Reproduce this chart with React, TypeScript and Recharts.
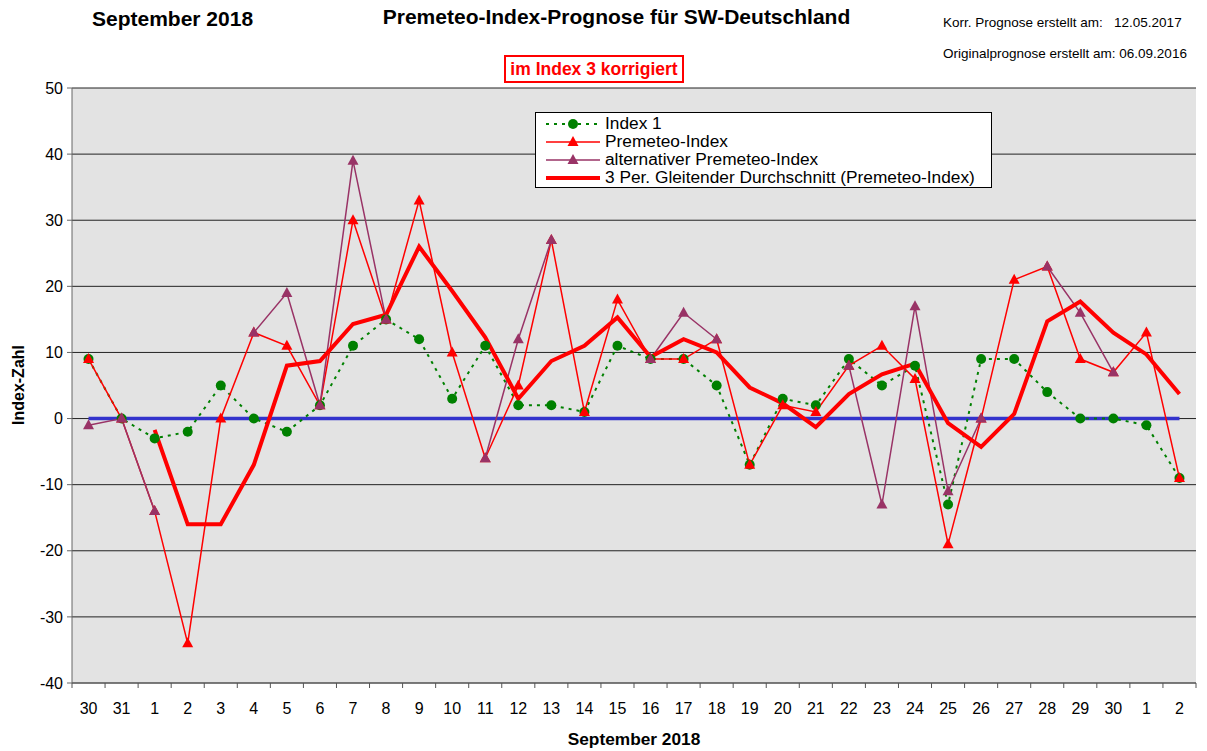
import { LineChart, Line, XAxis, YAxis, CartesianGrid, Legend, Label } from 'recharts'

// categories (Aug 30 .. Oct 2)
const days = ['30', '31', '1', '2', '3', '4', '5', '6', '7', '8', '9', '10', '11', '12', '13', '14', '15', '16', '17', '18', '19', '20', '21', '22', '23', '24', '25', '26', '27', '28', '29', '30', '1', '2']

const index1 = [9, 0, -3, -2, 5, 0, -2, 2, 11, 15, 12, 3, 11, 2, 2, 1, 11, 9, 9, 5, -7, 3, 2, 9, 5, 8, -13, 9, 9, 4, 0, 0, -1, -9]
const premeteo = [9, 0, -14, -34, 0, 13, 11, 2, 30, 15, 33, 10, -6, 5, 27, 1, 18, 9, 9, 12, -7, 2, 1, 8, 11, 6, -19, 0, 21, 23, 9, 7, 13, -9]
const altPremeteo = [-1, 0, -14, null, null, 13, 19, 2, 39, 15, null, null, -6, 12, 27, null, null, 9, 16, 12, null, null, null, 8, -13, 17, -11, 0, null, 23, 16, 7, null, null]
const movingAvg = [null, null, -1.7, -16, -16, -7, 8, 8.7, 14.3, 15.7, 26, 19.3, 12.3, 3, 8.7, 11, 15.3, 9.3, 12, 10, 4.7, 2.3, -1.3, 3.7, 6.7, 8.3, -0.7, -4.3, 0.7, 14.7, 17.7, 13, 9.7, 3.7]
const zeroLine = [0, 0, 0, 0, 0, 0, 0, 0, 0, 0, 0, 0, 0, 0, 0, 0, 0, 0, 0, 0, 0, 0, 0, 0, 0, 0, 0, 0, 0, 0, 0, 0, 0, 0]
const yTicks = [50, 40, 30, 20, 10, 0, -10, -20, -30, -40]

const data = days.map((d, i) => ({
  idx: i,
  day: d,
  index1: index1[i],
  premeteo: premeteo[i],
  alt: altPremeteo[i],
  avg: movingAvg[i],
  zero: zeroLine[i],
}))

const W = 1207
const H = 751
const PLOT_W = 1124
const BAND = PLOT_W / days.length
const FONT = 'Arial, "Liberation Sans", sans-serif'

const GREEN = '#008000'
const RED = '#FF0000'
const PURPLE = '#993366'
const BLUE = '#3333CC'

function triangle(color: string) {
  return (p: any) => {
    const { cx, cy, value, index } = p
    if (value == null || cy == null) return <g key={`t-${color}-${index}`} />
    return (
      <polygon
        key={`t-${color}-${index}`}
        points={`${cx},${cy - 6} ${cx - 5.5},${cy + 4} ${cx + 5.5},${cy + 4}`}
        fill={color}
      />
    )
  }
}

function circle(p: any) {
  const { cx, cy, value, index } = p
  if (value == null || cy == null) return <g key={`c-${index}`} />
  return <circle key={`c-${index}`} cx={cx} cy={cy} r={5} fill={GREEN} />
}

function XTick(p: any) {
  const { x, y, payload, index } = p
  const last = index === days.length - 1
  return (
    <g>
      <line x1={x - BAND / 2} x2={x - BAND / 2} y1={y} y2={y + 5} stroke="#555" />
      {last && <line x1={x + BAND / 2} x2={x + BAND / 2} y1={y} y2={y + 5} stroke="#555" />}
      <text x={x} y={y + 31} textAnchor="middle" fontSize={16} fontFamily={FONT} fill="#000">
        {days[payload.value]}
      </text>
    </g>
  )
}

const legendItems = [
  { name: 'Index 1', color: GREEN, dash: '3 5', width: 2, marker: 'circle' },
  { name: 'Premeteo-Index', color: RED, dash: '', width: 1.5, marker: 'tri' },
  { name: 'alternativer Premeteo-Index', color: PURPLE, dash: '', width: 1.5, marker: 'tri' },
  { name: '3 Per. Gleitender Durchschnitt (Premeteo-Index)', color: RED, dash: '', width: 4, marker: '' },
]

function LegendBox() {
  return (
    <div
      style={{
        width: 457,
        height: 76,
        background: '#fff',
        border: '1px solid #000',
        boxSizing: 'border-box',
        paddingTop: 2,
      }}
    >
      {legendItems.map((it) => (
        <div key={it.name} style={{ display: 'flex', alignItems: 'center', height: 17.8 }}>
          <svg width={69} height={17}>
            <line x1={10} x2={64} y1={9} y2={9} stroke={it.color} strokeWidth={it.width} strokeDasharray={it.dash} />
            {it.marker === 'circle' && <circle cx={37} cy={9} r={5} fill={it.color} />}
            {it.marker === 'tri' && <polygon points="37,3 31.5,13 42.5,13" fill={it.color} />}
          </svg>
          <span style={{ fontSize: 17.3, fontFamily: FONT, color: '#000', lineHeight: '17px', whiteSpace: 'nowrap' }}>
            {it.name}
          </span>
        </div>
      ))}
    </div>
  )
}

export default function App() {
  return (
    <div style={{ position: 'absolute', left: 0, top: 0, width: W, height: H, background: '#fff', fontFamily: FONT }}>
      <div style={{ position: 'absolute', left: 92, top: 7, fontSize: 21, fontWeight: 'bold' }}>September 2018</div>
      <div style={{ position: 'absolute', left: 0, width: 1233, top: 5, textAlign: 'center', fontSize: 21, fontWeight: 'bold' }}>
        Premeteo-Index-Prognose für SW-Deutschland
      </div>
      <div style={{ position: 'absolute', left: 943, top: 15, fontSize: 13.5, whiteSpace: 'pre' }}>Korr. Prognose erstellt am:   12.05.2017</div>
      <div style={{ position: 'absolute', left: 943, top: 46, fontSize: 13.5, whiteSpace: 'pre' }}>Originalprognose erstellt am: 06.09.2016</div>
      <div
        style={{
          position: 'absolute',
          left: 504,
          top: 55,
          width: 180,
          height: 28,
          boxSizing: 'border-box',
          border: '2px solid #FF0000',
          color: '#FF0000',
          fontWeight: 'bold',
          fontSize: 17.5,
          textAlign: 'center',
          lineHeight: '24px',
          whiteSpace: 'nowrap',
        }}
      >
        im Index 3 korrigiert
      </div>
      <LineChart width={W} height={H} data={data} margin={{ top: 88, right: 11, bottom: 38, left: 12 }}>
        <CartesianGrid vertical={false} stroke="#222" fill="#E3E3E3" />
        <XAxis
          dataKey="idx"
          type="category"
          height={30}
          padding={{ left: BAND / 2, right: BAND / 2 }}
          tickLine={false}
          tickSize={0}
          tickMargin={0}
          stroke="#666"
          interval={0}
          tick={<XTick />}
        >
          <Label
            content={() => (
              <text x={634} y={745} textAnchor="middle" fontSize={17.3} fontWeight="bold" fontFamily={FONT} fill="#000">
                September 2018
              </text>
            )}
          />
        </XAxis>
        <YAxis
          width={60}
          domain={[-40, 50]}
          ticks={yTicks}
          interval={0}
          stroke="#666"
          tickSize={5}
          tickMargin={4}
          tick={{ fontSize: 16, fill: '#000', fontFamily: FONT }}
        >
          <Label
            content={() => (
              <text
                x={24}
                y={385}
                transform="rotate(-90 24 385)"
                textAnchor="middle"
                fontSize={16}
                fontWeight="bold"
                fontFamily={FONT}
                fill="#000"
              >
                Index-Zahl
              </text>
            )}
          />
        </YAxis>
        <Legend
          layout="vertical"
          align="center"
          verticalAlign="middle"
          content={() => <LegendBox />}
          wrapperStyle={{ left: 535, top: 112, width: 457, height: 76 }}
        />
        <Line dataKey="zero" stroke={BLUE} strokeWidth={3.5} dot={false} isAnimationActive={false} legendType="none" />
        <Line
          dataKey="index1"
          name="Index 1"
          stroke={GREEN}
          strokeWidth={2}
          strokeDasharray="3 5"
          dot={circle}
          activeDot={false}
          isAnimationActive={false}
        />
        <Line
          dataKey="premeteo"
          name="Premeteo-Index"
          stroke={RED}
          strokeWidth={1.5}
          dot={triangle(RED)}
          activeDot={false}
          isAnimationActive={false}
        />
        <Line
          dataKey="alt"
          name="alternativer Premeteo-Index"
          stroke={PURPLE}
          strokeWidth={1.5}
          dot={triangle(PURPLE)}
          activeDot={false}
          isAnimationActive={false}
        />
        <Line
          dataKey="avg"
          name="3 Per. Gleitender Durchschnitt (Premeteo-Index)"
          stroke={RED}
          strokeWidth={4}
          dot={false}
          activeDot={false}
          isAnimationActive={false}
        />
      </LineChart>
    </div>
  )
}
